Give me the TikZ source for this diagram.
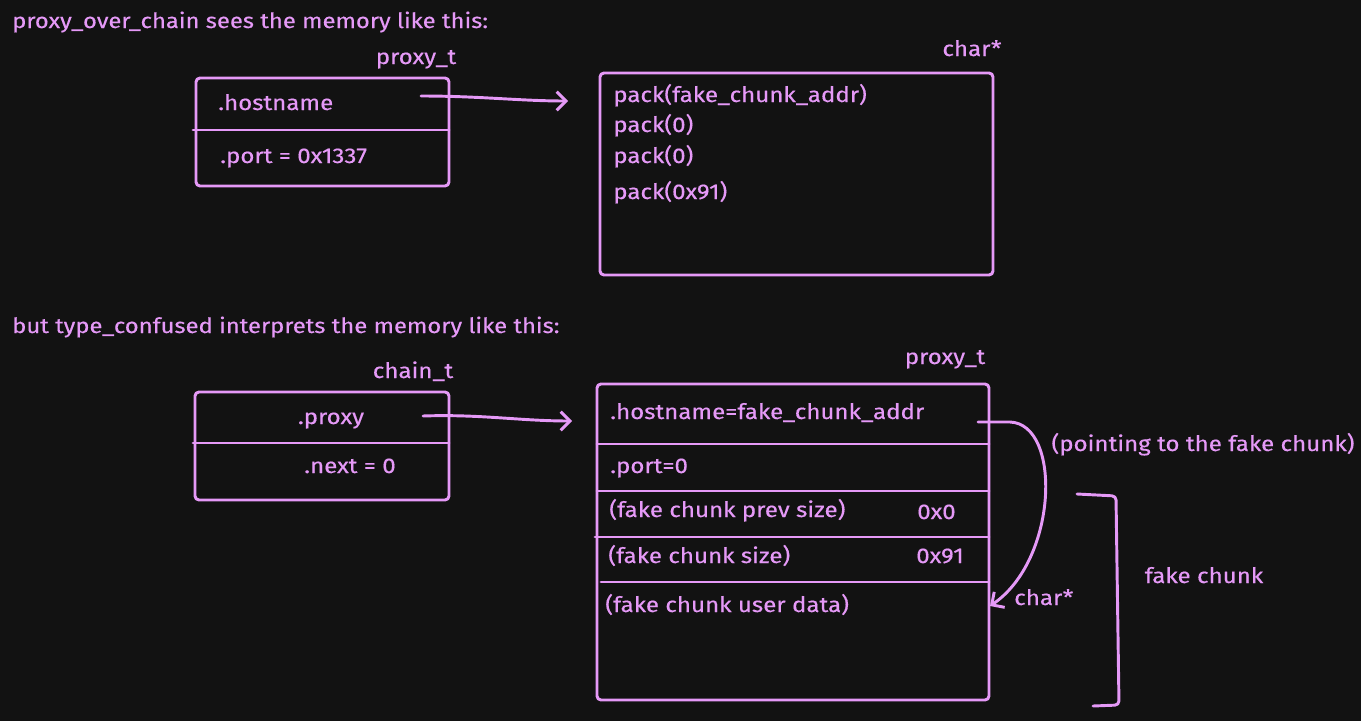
\documentclass[tikz,border=0pt]{standalone}
\usepackage{fontspec}
\setmainfont{Fira Sans}[FakeStretch=1.13,FakeBold=0.4]
\usetikzlibrary{arrows.meta,fit}
\definecolor{pk}{HTML}{E599F7}
\definecolor{bg}{HTML}{121212}
\tikzset{
  ln/.style={draw=pk, line width=2.2pt, line cap=round, line join=round},
  bx/.style={ln, rounded corners=3pt, inner sep=0pt},
  arr/.style={ln, -{Straight Barb[length=7pt,width=14pt,line width=2.2pt]}},
  tl/.style={text=pk, font=\fontsize{16}{18}\selectfont, inner sep=0pt, anchor=base west},
  tc/.style={tl, anchor=base},
  tt/.style={tl, font=\fontsize{15.8}{18}\selectfont},
}
\begin{document}
\begin{tikzpicture}[x=0.75pt,y=-0.75pt]
\fill[bg] (0,0) rectangle (1361,721);
\useasboundingbox (0,0) rectangle (1361,721);

% ---------- top ----------
\node[tt] (t1) at (12,28) {proxy\_over\_chain sees the memory like this:};

\node[tc] (l1) at (416,64) {proxy\_t};
\node[bx, fit={(196,78) (449,186)}] (b1) {};
\coordinate (d1a) at (193,130); \coordinate (d1b) at (449,130);
\draw[ln] (d1a) -- (d1b);
\node[tl] (h1) at (218,110) {.hostname};
\node[tl] (p1) at (220,163) {.port = 0x1337};

\node[tc] (l2) at (972,56) {char*};
\node[bx, fit={(600,73) (993,275)}] (b2) {};
\node[tl] (k1) at (613,102) {pack(fake\_chunk\_addr)};
\node[tl] (k2) at (613,132) {pack(0)};
\node[tl] (k3) at (613,163) {pack(0)};
\node[tl] (k4) at (613,199) {pack(0x91)};

\coordinate (a1s) at (421,96);
\coordinate (a1e) at (568,101);
\draw[arr] (a1s) .. controls (480,96) and (520,101) .. (a1e);

% ---------- bottom ----------
\node[tt] (t2) at (12,333) {but type\_confused interprets the memory like this:};

\node[tc] (l3) at (413,378) {chain\_t};
\node[bx, fit={(195,392) (449,500)}] (b3) {};
\coordinate (d3a) at (193,443); \coordinate (d3b) at (449,443);
\draw[ln] (d3a) -- (d3b);
\node[tc] (x1) at (331,424) {.proxy};
\node[tc] (x2) at (350,473) {.next = 0};

\coordinate (a2s) at (423,416);
\coordinate (a2e) at (572,421);
\draw[arr] (a2s) .. controls (480,414) and (520,421) .. (a2e);

\node[tc] (l4) at (945,364) {proxy\_t};
\node[bx, fit={(597,384) (989,700)}] (b4) {};
\coordinate (e1a) at (597,444); \coordinate (e1b) at (989,444);
\coordinate (e2a) at (597,491); \coordinate (e2b) at (989,491);
\coordinate (e3a) at (595,537); \coordinate (e3b) at (989,537);
\coordinate (e4a) at (601,582); \coordinate (e4b) at (989,582);
\draw[ln] (e1a) -- (e1b);
\draw[ln] (e2a) -- (e2b);
\draw[ln] (e3a) -- (e3b);
\draw[ln] (e4a) -- (e4b);

\node[tl] (f1) at (610,419) {.hostname=fake\_chunk\_addr};
\node[tl] (f2) at (610,473) {.port=0};
\node[tl] (f3) at (609,517) {(fake chunk prev size)};
\node[tl] (f3v) at (917,519) {0x0};
\node[tl] (f4) at (608,563) {(fake chunk size)};
\node[tl] (f4v) at (916,563) {0x91};
\node[tl] (f5) at (605,612) {(fake chunk user data)};

\coordinate (a3s) at (978,422);
\coordinate (a3e) at (990,606);
\draw[arr] (a3s) -- (1010,422) .. controls (1062,424) and (1058,560) .. (a3e);
\node[tl] (c1) at (1014,605) {char*};

\node[tc] (n1) at (1203,451) {(pointing to the fake chunk)};

\coordinate (br1) at (1077,494);
\coordinate (br2) at (1116,496);
\coordinate (br3) at (1119,705);
\coordinate (br4) at (1093,706);
\draw[ln, rounded corners=3pt] (br1) -- (br2) -- (br3) -- (br4);
\node[tc] (n2) at (1204,583) {fake chunk};
\end{tikzpicture}
\end{document}
